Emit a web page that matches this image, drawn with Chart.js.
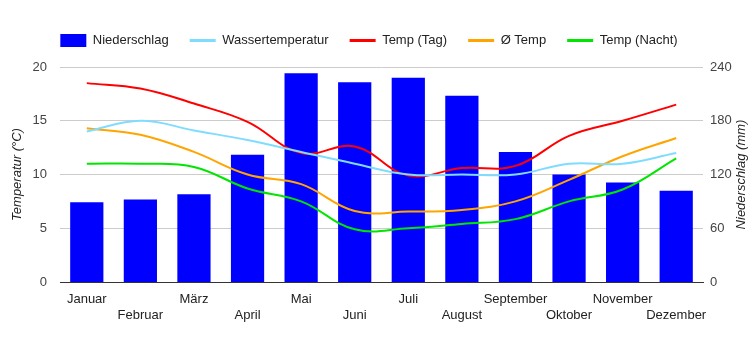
<!DOCTYPE html>
<html>
<head>
<meta charset="utf-8">
<script src="https://cdn.jsdelivr.net/npm/chart.js@4"></script>
<style>
html,body{margin:0;padding:0;background:#fff;}
#wrap{width:750px;height:350px;position:relative;}
</style>
</head>
<body>
<div id="wrap"><canvas id="c" width="750" height="350"></canvas></div>
<script>
const months = ['Januar','Februar','März','April','Mai','Juni','Juli','August','September','Oktober','November','Dezember'];
const niederschlag = [89, 92, 98, 142, 233, 223, 228, 208, 145, 120, 111, 102];
const wassertemperatur = [14, 15, 14.1, 13.2, 12.1, 11, 10, 10, 10, 11, 11, 12];
const tempTag = [18.5, 18, 16.6, 14.9, 12, 12.6, 9.9, 10.6, 10.8, 13.6, 15, 16.5];
const tempMittel = [14.3, 13.7, 12.1, 10, 9.1, 6.6, 6.55, 6.7, 7.5, 9.5, 11.7, 13.4];
const tempNacht = [11, 11, 10.7, 8.7, 7.5, 4.9, 5, 5.4, 5.85, 7.5, 8.6, 11.5];
const tempTicks = [0, 5, 10, 15, 20];
const mmTicks = [0, 60, 120, 180, 240];

const FONT = "'Liberation Sans', Arial, sans-serif";

const legendTweak = {
  id: 'legendTweak',
  beforeInit(chart) {
    const lg = chart.legend;
    const fit = lg.fit;
    lg.fit = function () { fit.call(this); this.height += 10; };
    const draw = lg.draw;
    lg.draw = function () {
      const c = this.ctx; c.save(); c.translate(-6, 0); draw.call(this); c.restore();
    };
  }
};

const rightTitle = {
  id: 'rightTitle',
  afterDraw(chart) {
    const ctx = chart.ctx;
    const a = chart.chartArea;
    ctx.save();
    ctx.translate(741, (a.top + a.bottom) / 2);
    ctx.rotate(-Math.PI / 2);
    ctx.font = 'italic 13px ' + FONT;
    ctx.fillStyle = '#222';
    ctx.textAlign = 'center';
    ctx.textBaseline = 'middle';
    ctx.fillText('Niederschlag (mm)', 0, 0);
    ctx.restore();
  }
};

const lineDs = (label, data, color) => ({
  type: 'line', label, data, borderColor: color, backgroundColor: color,
  borderWidth: 2, pointRadius: 0, pointHoverRadius: 0, tension: 0.4,
  fill: false, yAxisID: 'y', pointStyle: 'line', order: 1
});

new Chart(document.getElementById('c'), {
  data: {
    labels: months,
    datasets: [
      { type: 'bar', label: 'Niederschlag', data: niederschlag, backgroundColor: '#0000ff',
        borderWidth: 0, yAxisID: 'y1', barPercentage: 0.62, categoryPercentage: 1, pointStyle: 'rect', order: 2 },
      lineDs('Wassertemperatur', wassertemperatur, '#80dcff'),
      lineDs('Temp (Tag)', tempTag, '#ff0000'),
      lineDs('Ø Temp', tempMittel, '#ffa500'),
      lineDs('Temp (Nacht)', tempNacht, '#00e600')
    ]
  },
  options: {
    responsive: false,
    animation: false,
    devicePixelRatio: 1,
    layout: { padding: { top: 13, left: 0, right: 0, bottom: 0 } },
    plugins: {
      tooltip: { enabled: false },
      legend: {
        position: 'top',
        align: 'center',
        labels: {
          usePointStyle: true,
          pointStyleWidth: 26,
          boxHeight: 13,
          padding: 21,
          color: '#222',
          font: { family: FONT, size: 13 },
          sort: (a, b) => a.datasetIndex - b.datasetIndex,
          generateLabels: function (chart) {
            const items = Chart.defaults.plugins.legend.labels.generateLabels(chart);
            items.forEach(it => { if (it.pointStyle === 'line') it.lineWidth = 3; });
            return items;
          }
        }
      }
    },
    scales: {
      x: {
        grid: { display: false, drawTicks: false },
        border: { display: true, color: '#333', width: 1 },
        ticks: {
          autoSkip: false, maxRotation: 0, minRotation: 0, padding: 9,
          color: '#222', font: { family: FONT, size: 13, lineHeight: 1.27 },
          callback: function (v, i) { const l = months[i]; return i % 2 === 0 ? l : ['', l]; }
        },
        afterFit: s => { s.height = 68; }
      },
      y: {
        position: 'left', min: 0, max: 20,
        afterBuildTicks: s => { s.ticks = tempTicks.map(v => ({ value: v })); },
        grid: { color: '#cccccc', drawTicks: false },
        border: { display: false },
        ticks: { padding: 13, color: '#444', font: { family: FONT, size: 13 } },
        title: { display: true, text: 'Temperatur (°C)', color: '#222', padding: { top: 10, bottom: 0 },
          font: { family: FONT, size: 13, style: 'italic' } },
        afterFit: s => { s.width = 60; }
      },
      y1: {
        position: 'right', min: 0, max: 240,
        afterBuildTicks: s => { s.ticks = mmTicks.map(v => ({ value: v })); },
        grid: { display: false, drawTicks: false },
        border: { display: false },
        ticks: { padding: 7, color: '#444', font: { family: FONT, size: 13 } },
        afterFit: s => { s.width = 47; }
      }
    }
  },
  plugins: [legendTweak, rightTitle]
});
</script>
</body>
</html>
